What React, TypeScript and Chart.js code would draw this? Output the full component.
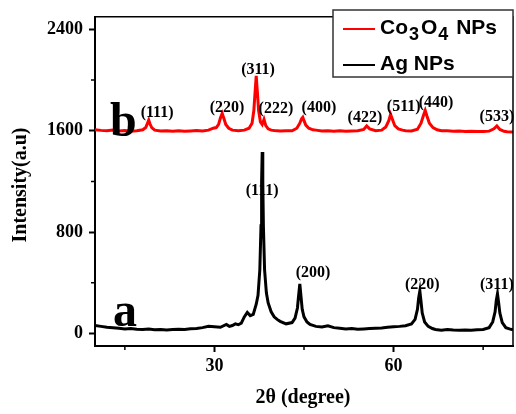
import React, { useEffect, useRef } from "react";
import { Chart, registerables } from "chart.js";

Chart.register(...registerables);

// Ag NPs (curve a)
const agX = [10, 11, 12, 13, 14, 15, 16, 17, 18, 19, 20, 21, 22, 23, 24, 25, 26, 27, 28, 29, 30, 31, 32, 32.5, 33, 33.5, 34, 34.5, 35, 35.5, 36, 36.5, 37, 37.3, 37.6, 37.8, 37.9, 38.0, 38.1, 38.2, 38.4, 38.7, 39, 39.5, 40, 40.5, 41, 42, 43, 43.5, 43.9, 44.1, 44.3, 44.5, 44.7, 45.0, 45.5, 46, 47, 48, 49, 50, 51, 52, 53, 54, 55, 56, 57, 58, 59, 60, 61, 62, 63, 63.6, 64.0, 64.2, 64.4, 64.6, 64.8, 65.2, 65.8, 66.5, 67, 68, 69, 70, 71, 72, 73, 74, 75, 76, 76.6, 77.0, 77.2, 77.4, 77.6, 77.8, 78.2, 78.8, 79.4, 80];
const agY = [62, 55, 48, 44, 40, 35, 38, 32, 30, 34, 29, 31, 27, 30, 33, 30, 36, 38, 45, 55, 52, 48, 70, 55, 62, 75, 68, 80, 130, 165, 140, 150, 230, 300, 500, 850, 1200, 1432, 1200, 850, 500, 320, 240, 170, 130, 110, 95, 75, 85, 120, 200, 300, 390, 290, 190, 130, 90, 70, 55, 50, 60, 45, 40, 35, 38, 32, 35, 38, 40, 42, 48, 52, 55, 60, 75, 110, 190, 280, 335, 250, 160, 90, 55, 38, 30, 25, 30, 26, 24, 27, 25, 28, 30, 45, 90, 170, 260, 312, 240, 160, 85, 45, 35, 28];

// Co3O4 NPs (curve b)
const coX = [10, 11, 12, 13, 14, 15, 16, 17, 18, 18.5, 18.8, 19.0, 19.2, 19.5, 20, 21, 22, 23, 24, 25, 26, 27, 28, 29, 29.8, 30.3, 30.7, 31.0, 31.3, 31.6, 31.9, 32.4, 33, 34, 35, 35.8, 36.3, 36.6, 36.8, 37.0, 37.2, 37.4, 37.7, 38.0, 38.3, 38.6, 39, 39.5, 40, 41, 42, 43, 43.8, 44.3, 44.6, 44.8, 45.0, 45.3, 45.8, 46.5, 47, 48, 49, 50, 51, 52, 53, 54, 55, 55.5, 56, 57, 58, 58.7, 59.2, 59.5, 59.8, 60.2, 60.8, 61.5, 62, 63, 64, 64.6, 65.0, 65.3, 65.6, 66.0, 66.6, 67.3, 68, 69, 70, 71, 72, 73, 74, 75, 76, 76.8, 77.3, 77.8, 78.5, 79, 80];
const coY = [1608, 1603, 1600, 1605, 1598, 1602, 1597, 1600, 1608, 1625, 1660, 1684, 1655, 1625, 1605, 1598, 1600, 1596, 1600, 1597, 1599, 1602, 1598, 1605, 1620, 1625, 1650, 1700, 1737, 1695, 1650, 1620, 1605, 1600, 1605, 1620, 1660, 1760, 1900, 2034, 1900, 1760, 1670, 1650, 1690, 1640, 1615, 1605, 1602, 1598, 1600, 1600, 1620, 1660, 1695, 1707, 1680, 1645, 1620, 1607, 1605, 1598, 1600, 1597, 1600, 1596, 1598, 1600, 1610, 1638, 1615, 1600, 1605, 1630, 1680, 1729, 1690, 1640, 1615, 1605, 1600, 1598, 1612, 1660, 1720, 1760, 1715, 1660, 1625, 1608, 1600, 1600, 1596, 1598, 1594, 1596, 1595, 1594, 1597, 1615, 1638, 1610, 1596, 1592, 1590];

// Peak labels (centre positions in data units)
const coLabelText = ["(111)", "(220)", "(311)", "(222)", "(400)", "(422)", "(511)", "(440)", "(533)"];
const coLabelX = [20.4, 32.1, 37.3, 40.3, 47.5, 55.2, 61.7, 67.1, 77.3];
const coLabelY = [1738, 1783, 2081, 1776, 1783, 1700, 1791, 1822, 1707];
const agLabelText = ["(111)", "(200)", "(220)", "(311)"];
const agLabelX = [38.0, 46.5, 64.8, 77.3];
const agLabelY = [1128, 480, 380, 380];

// Curve letters (left, baseline in data units)
const letterText = ["b", "a"];
const letterX = [12.5, 13.0];
const letterY = [1562, 60];

const xMajorTicks = [30, 60];
const xMinorTicks = [15, 45, 75];
const yMajorTicks = [0, 800, 1600, 2400];
const yMinorTicks = [400, 1200, 2000];

const SERIF = "'Liberation Serif', 'Times New Roman', serif";
const SANS = "'Liberation Sans', Arial, sans-serif";

const decorPlugin = {
  id: "decor",
  afterDatasetsDraw(chart: any) {
    const ctx = chart.ctx;
    const { left, right, top, bottom } = chart.chartArea;
    const xs = chart.scales.x;
    const ys = chart.scales.y;
    ctx.save();
    // frame top & right
    ctx.strokeStyle = "#000";
    ctx.lineWidth = 1.5;
    ctx.beginPath();
    ctx.moveTo(left, top);
    ctx.lineTo(right, top);
    ctx.lineTo(right, bottom);
    ctx.stroke();
    // minor ticks
    ctx.lineWidth = 1.5;
    ctx.beginPath();
    xMinorTicks.forEach((v) => {
      const px = xs.getPixelForValue(v);
      ctx.moveTo(px, bottom);
      ctx.lineTo(px, bottom + 4);
    });
    yMinorTicks.forEach((v) => {
      const py = ys.getPixelForValue(v);
      ctx.moveTo(left, py);
      ctx.lineTo(left - 4, py);
    });
    ctx.stroke();

    // peak labels
    ctx.fillStyle = "#000";
    ctx.textAlign = "center";
    ctx.textBaseline = "middle";
    ctx.font = `bold 16px ${SERIF}`;
    coLabelText.forEach((t, i) => {
      ctx.fillText(t, xs.getPixelForValue(coLabelX[i]), ys.getPixelForValue(coLabelY[i]));
    });
    agLabelText.forEach((t, i) => {
      ctx.fillText(t, xs.getPixelForValue(agLabelX[i]), ys.getPixelForValue(agLabelY[i]));
    });

    // curve letters
    ctx.textAlign = "left";
    ctx.textBaseline = "alphabetic";
    ctx.font = `bold 48px ${SERIF}`;
    letterText.forEach((t, i) => {
      ctx.fillText(t, xs.getPixelForValue(letterX[i]), ys.getPixelForValue(letterY[i]));
    });

    // axis titles
    ctx.font = `bold 20px ${SERIF}`;
    ctx.textAlign = "center";
    ctx.textBaseline = "middle";
    ctx.fillText("2\u03B8 (degree)", (left + right) / 2 - 1, 398);
    ctx.save();
    ctx.translate(21, 185);
    ctx.rotate(-Math.PI / 2);
    ctx.fillText("Intensity(a.u)", 0, 0);
    ctx.restore();

    // legend
    const bx = 333, by = 10, bw = right - 333, bh = 67;
    ctx.fillStyle = "#fff";
    ctx.fillRect(bx, by, bw, bh);
    ctx.strokeStyle = "#333";
    ctx.lineWidth = 1.5;
    ctx.strokeRect(bx, by, bw, bh);
    const rows = [
      { color: "#ff0000", y: 29, parts: [["Co", 0], ["3", 1], ["O", 0], ["4", 1], [" NPs", 0]] },
      { color: "#000000", y: 65, parts: [["Ag NPs", 0]] },
    ];
    rows.forEach((r) => {
      ctx.strokeStyle = r.color;
      ctx.lineWidth = 2;
      ctx.beginPath();
      ctx.moveTo(343, r.y);
      ctx.lineTo(375, r.y);
      ctx.stroke();
      let tx = 380;
      ctx.fillStyle = "#000";
      ctx.textAlign = "left";
      ctx.textBaseline = "alphabetic";
      (r.parts as any[]).forEach(([s, sub]) => {
        ctx.font = sub ? `bold 18px ${SANS}` : `bold 21px ${SANS}`;
        ctx.fillText(s, tx, r.y + 5 + (sub ? 6 : 0));
        tx += ctx.measureText(s).width + (sub ? 2 : 1);
      });
    });
    ctx.restore();
  },
};

export default function App() {
  const ref = useRef<HTMLCanvasElement>(null);
  useEffect(() => {
    document.body.style.margin = "0";
    const canvas = ref.current!;
    const chart = new Chart(canvas, {
      type: "line",
      data: {
        datasets: [
          {
            label: "Ag NPs",
            data: agX.map((x, i) => ({ x, y: agY[i] })),
            borderColor: "#000000",
            borderWidth: 3,
            pointRadius: 0,
            tension: 0,
          },
          {
            label: "Co3O4 NPs",
            data: coX.map((x, i) => ({ x, y: coY[i] })),
            borderColor: "#ff0000",
            borderWidth: 3,
            pointRadius: 0,
            tension: 0,
          },
        ],
      },
      options: {
        animation: false,
        responsive: false,
        maintainAspectRatio: false,
        layout: { padding: { left: 0, right: 3, top: 5, bottom: 0 } },
        plugins: { legend: { display: false }, tooltip: { enabled: false } },
        scales: {
          x: {
            type: "linear",
            min: 10,
            max: 80,
            afterBuildTicks: (s: any) => {
              s.ticks = xMajorTicks.map((v) => ({ value: v }));
            },
            afterFit: (s: any) => {
              s.height = 68;
            },
            grid: { drawOnChartArea: false, drawTicks: true, tickLength: 6, tickWidth: 2, tickColor: "#000" },
            border: { display: true, color: "#000", width: 2 },
            ticks: {
              color: "#000",
              font: { family: SERIF, size: 18, weight: "bold" },
              padding: 4,
              maxRotation: 0,
              callback: (v: any) => String(v),
            },
          },
          y: {
            type: "linear",
            min: -100,
            max: 2500,
            afterBuildTicks: (s: any) => {
              s.ticks = yMajorTicks.map((v) => ({ value: v }));
            },
            afterFit: (s: any) => {
              s.width = 95;
            },
            grid: { drawOnChartArea: false, drawTicks: true, tickLength: 6, tickWidth: 2, tickColor: "#000" },
            border: { display: true, color: "#000", width: 2 },
            ticks: {
              color: "#000",
              font: { family: SERIF, size: 18, weight: "bold" },
              padding: 6,
              callback: (v: any) => String(v),
            },
          },
        },
      },
      plugins: [decorPlugin],
    } as any);
    return () => chart.destroy();
  }, []);
  return (
    <div style={{ position: "absolute", left: 0, top: 0, width: 516, height: 414, background: "#fff" }}>
      <canvas ref={ref} width={516} height={414} style={{ width: 516, height: 414 }} />
    </div>
  );
}
